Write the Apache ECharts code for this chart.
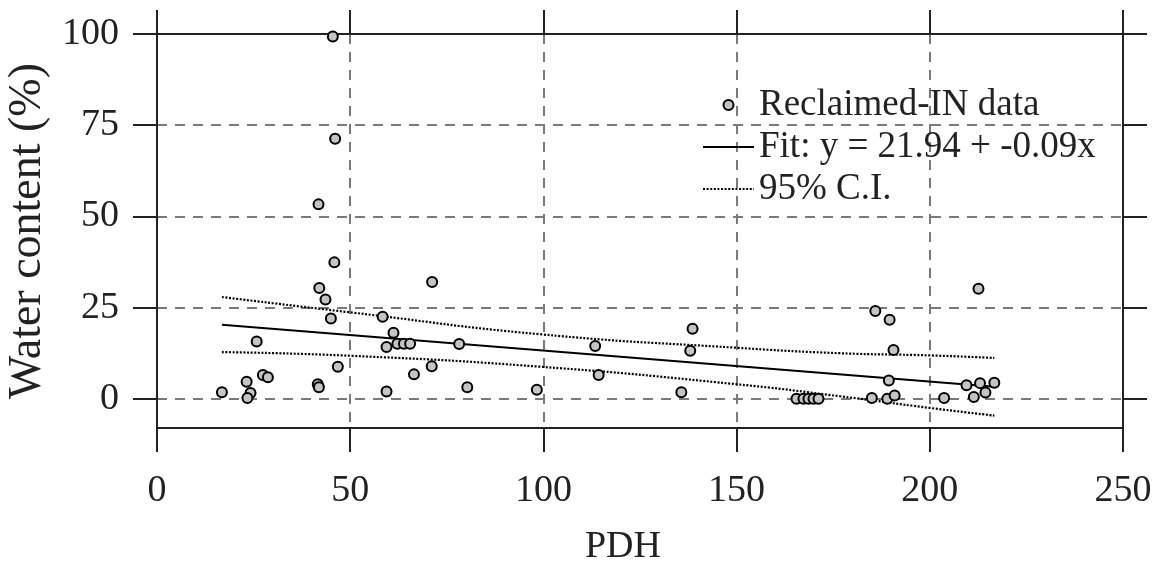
<!DOCTYPE html>
<html>
<head>
<meta charset="utf-8">
<script src="https://cdn.jsdelivr.net/npm/echarts@6/dist/echarts.min.js"></script>
<style>
html,body{margin:0;padding:0;background:#fff;}
#chart{width:1161px;height:563px;}
</style>
</head>
<body>
<div id="chart"></div>
<script>
// ---- data ----
const pdh = [45.5, 46.1, 41.8, 45.9, 42.0, 43.6, 45.0, 71.2, 58.4, 61.2, 59.4, 62.2, 63.9, 65.5, 78.2, 25.8,
  46.8, 71.1, 66.5, 27.4, 28.7, 23.2, 24.2, 23.4, 16.8, 41.6, 41.9, 59.4, 80.3, 98.3,
  138.6, 113.4, 138.0, 114.3, 135.7, 165.5, 167.3, 168.6, 169.9, 171.2,
  212.6, 185.9, 189.6, 190.6, 189.4, 185.0, 189.0, 190.9, 203.7, 209.5, 213.0, 216.7, 214.4, 211.4];
const water = [99.3, 71.3, 53.3, 37.4, 30.4, 27.2, 22.0, 32.0, 22.5, 18.1, 14.2, 15.1, 15.1, 15.1, 15.0, 15.7,
  8.8, 8.9, 6.7, 6.5, 5.9, 4.7, 1.6, 0.2, 1.8, 4.0, 3.2, 2.0, 3.2, 2.5,
  19.2, 14.5, 13.2, 6.5, 1.8, 0.0, 0.0, 0.0, 0.0, 0.0,
  30.2, 24.1, 21.7, 13.4, 5.0, 0.2, 0.0, 0.9, 0.2, 3.7, 4.3, 4.4, 1.7, 0.5];
const fitX = [16.8, 216.7];
const fitY = [20.3, 3.3];
const ciX = [16.8, 50, 99.1, 150, 176.8, 200, 216.7];
const ciUpper = [27.9, 23.7, 17.7, 14.0, 12.5, 11.9, 11.2];
const ciLower = [12.8, 11.8, 8.8, 4.0, 0.7, -2.5, -4.6];
const yTicks = [0, 25, 50, 75, 100];
const seriesNames = ['Reclaimed-IN data', 'Fit: y = 21.94 + -0.09x', '95% C.I.'];
const xTitle = 'PDH';
const yTitle = 'Water content (%)';

const FONT = "'Liberation Serif', 'Times New Roman', serif";
const AX = '#222';
const zip = (a, b) => a.map((v, i) => [v, b[i]]);

const chart = echarts.init(document.getElementById('chart'), null, {renderer: 'canvas'});
const axisLine = {show: true, onZero: false, lineStyle: {color: AX, width: 2}};
const axisTick = {show: true, inside: false, length: 24, lineStyle: {color: AX, width: 2}};
const split = {show: true, lineStyle: {color: '#7a7a7a', width: 2, type: [10, 8]}};
const hiddenSymbol = {color: 'transparent', borderWidth: 0, opacity: 0};

chart.setOption({
  animation: false,
  backgroundColor: '#fff',
  grid: {left: 157, right: 38, top: 34, bottom: 135, containLabel: false, outerBoundsMode: 'none'},
  legend: {
    orient: 'vertical', left: 702, top: 86, padding: 0, itemGap: 4,
    itemWidth: 51, itemHeight: 10,
    textStyle: {fontFamily: FONT, fontSize: 37, color: AX, lineHeight: 38},
    data: seriesNames
  },
  xAxis: [{
    type: 'value', min: 0, max: 250, interval: 50, position: 'bottom',
    axisLine, axisTick,
    axisLabel: {fontFamily: FONT, fontSize: 38, color: AX, margin: 44},
    splitLine: split,
    name: xTitle, nameLocation: 'middle', nameGap: 100,
    nameTextStyle: {fontFamily: FONT, fontSize: 38, color: AX, padding: [0, 34, 0, 0]}
  }, {
    type: 'value', min: 0, max: 250, interval: 50, position: 'top',
    axisLine, axisTick, axisLabel: {show: false}, splitLine: {show: false}
  }],
  yAxis: [{
    type: 'value', min: -8, max: 100, position: 'left',
    axisLine, axisTick: Object.assign({}, axisTick, {customValues: yTicks}),
    axisLabel: {fontFamily: FONT, fontSize: 38, color: AX, margin: 38, customValues: yTicks},
    splitLine: split,
    name: yTitle, nameLocation: 'middle', nameGap: 104,
    nameTextStyle: {fontFamily: FONT, fontSize: 46, color: AX}
  }, {
    type: 'value', min: -8, max: 100, position: 'right',
    axisLine, axisTick: Object.assign({}, axisTick, {customValues: yTicks}),
    axisLabel: {show: false, customValues: yTicks}, splitLine: {show: false}
  }],
  series: [{
    name: seriesNames[2], type: 'line', data: zip(ciX, ciUpper), smooth: true,
    showSymbol: false, symbol: 'none', z: 3,
    lineStyle: {color: '#000', width: 2.2, type: [2, 1.6]}, itemStyle: hiddenSymbol
  }, {
    name: seriesNames[2], type: 'line', data: zip(ciX, ciLower), smooth: true,
    showSymbol: false, symbol: 'none', z: 3,
    lineStyle: {color: '#000', width: 2.2, type: [2, 1.6]}, itemStyle: hiddenSymbol
  }, {
    name: seriesNames[1], type: 'line', data: zip(fitX, fitY),
    showSymbol: false, symbol: 'none', z: 4,
    lineStyle: {color: '#000', width: 2}, itemStyle: hiddenSymbol
  }, {
    name: seriesNames[0], type: 'scatter', data: zip(pdh, water), symbolSize: 10, z: 5,
    itemStyle: {color: '#c4c4c4', borderColor: '#000', borderWidth: 2, opacity: 1}
  }]
});
</script>
</body>
</html>
